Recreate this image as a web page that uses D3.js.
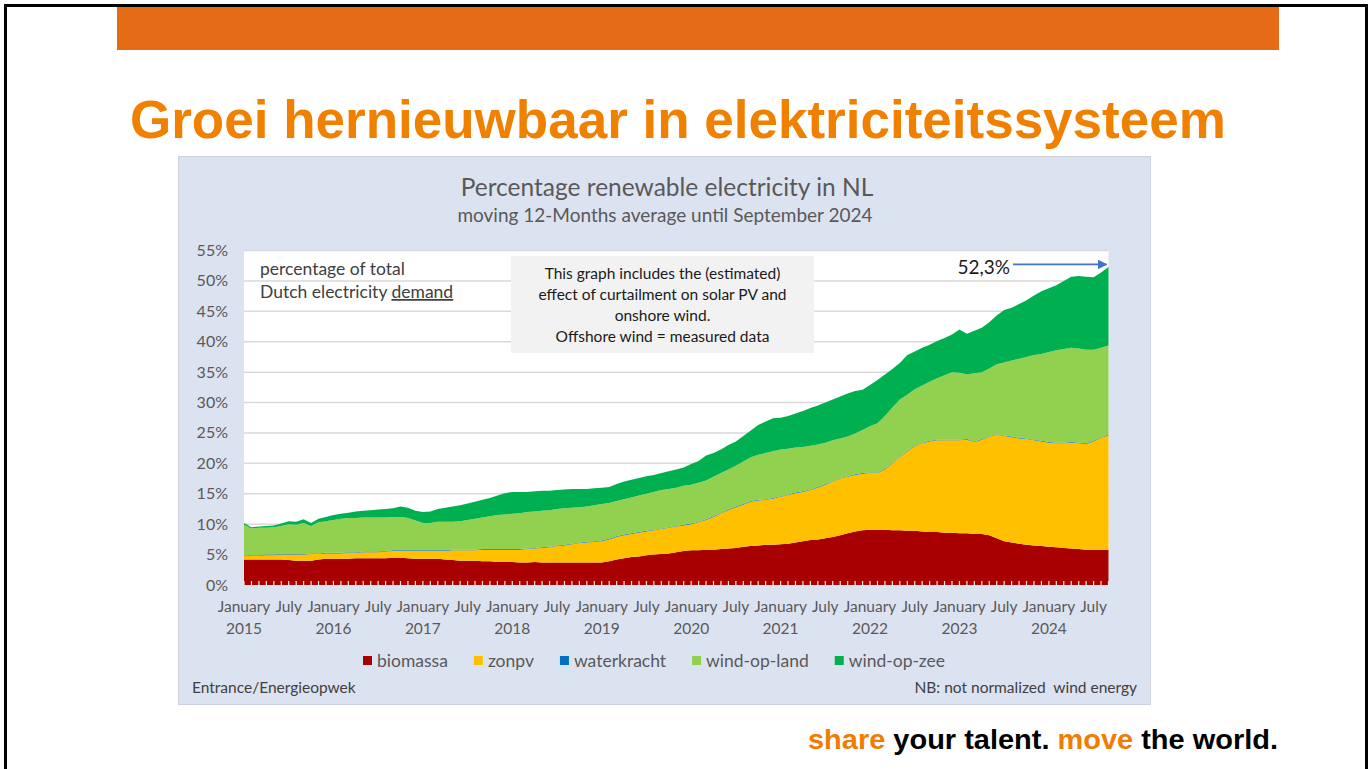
<!DOCTYPE html>
<html>
<head>
<meta charset="utf-8">
<script src="https://cdn.jsdelivr.net/npm/d3@7"></script>
<style>
body { margin: 0; background: #fff; }
svg text { font-family: Lato, "Open Sans", sans-serif; }
</style>
</head>
<body>
<svg id="slide" width="1371" height="769"></svg>
<script>
"use strict";

// Data: moving 12-month average share of demand (%), Jan 2015 .. Sep 2024 (117 months)
const firstYear = 2015;
const lastYear = 2024;

const biomassa = [
	4.2, 4.2, 4.2, 4.2, 4.2, 4.2, 4.1, 4.0, 4.0, 4.0, 4.2, 4.3,
	4.3, 4.3, 4.3, 4.4, 4.4, 4.4, 4.4, 4.4, 4.5, 4.5, 4.4, 4.3,
	4.3, 4.3, 4.3, 4.2, 4.1, 4.0, 4.0, 4.0, 3.9, 3.9, 3.8, 3.8,
	3.8, 3.7, 3.7, 3.8, 3.7, 3.7, 3.7, 3.7, 3.7, 3.7, 3.7, 3.7,
	3.7, 3.9, 4.2, 4.4, 4.6, 4.7, 4.9, 5.0, 5.1, 5.2, 5.4, 5.6,
	5.7, 5.7, 5.8, 5.8, 5.9, 6.0, 6.1, 6.3, 6.4, 6.5, 6.6, 6.6,
	6.7, 6.8, 7.0, 7.2, 7.4, 7.5, 7.7, 7.9, 8.2, 8.5, 8.8, 9.0,
	9.1, 9.1, 9.1, 9.0, 9.0, 8.9, 8.9, 8.8, 8.7, 8.7, 8.6, 8.6,
	8.5, 8.5, 8.4, 8.4, 8.2, 7.7, 7.2, 7.0, 6.8, 6.6, 6.5, 6.4,
	6.3, 6.2, 6.1, 6.0, 5.9, 5.8, 5.8, 5.8, 5.8
];

const zonpv = [
	0.7, 0.6, 0.6, 0.7, 0.7, 0.8, 0.9, 1.0, 1.0, 1.1, 0.9, 0.9,
	0.9, 0.9, 1.0, 0.9, 1.0, 1.0, 1.0, 1.1, 1.1, 1.1, 1.2, 1.3,
	1.3, 1.3, 1.3, 1.4, 1.6, 1.7, 1.7, 1.7, 1.9, 1.9, 2.0, 2.0,
	2.0, 2.1, 2.2, 2.2, 2.4, 2.5, 2.7, 2.8, 3.0, 3.2, 3.3, 3.4,
	3.5, 3.6, 3.7, 3.8, 3.8, 3.9, 3.9, 4.0, 4.1, 4.2, 4.2, 4.2,
	4.3, 4.6, 4.9, 5.4, 5.9, 6.3, 6.7, 6.9, 7.3, 7.4, 7.4, 7.6,
	7.8, 8.0, 8.1, 8.1, 8.2, 8.5, 8.8, 9.1, 9.3, 9.3, 9.3, 9.3,
	9.3, 9.3, 9.9, 11.0, 12.0, 13.1, 13.9, 14.5, 14.9, 15.1, 15.2, 15.2,
	15.3, 15.4, 15.1, 15.5, 16.2, 17.0, 17.3, 17.3, 17.3, 17.4, 17.3, 17.2,
	17.1, 17.1, 17.2, 17.4, 17.4, 17.4, 17.8, 18.4, 18.8
];

const waterkracht = [
	0.1, 0.1, 0.1, 0.1, 0.1, 0.1, 0.1, 0.1, 0.1, 0.1, 0.1, 0.1,
	0.1, 0.1, 0.1, 0.1, 0.1, 0.1, 0.1, 0.1, 0.1, 0.1, 0.1, 0.1,
	0.1, 0.1, 0.1, 0.1, 0.1, 0.1, 0.1, 0.1, 0.1, 0.1, 0.1, 0.1,
	0.1, 0.1, 0.1, 0.1, 0.1, 0.1, 0.1, 0.1, 0.1, 0.1, 0.1, 0.1,
	0.1, 0.1, 0.1, 0.1, 0.1, 0.1, 0.1, 0.1, 0.1, 0.1, 0.1, 0.1,
	0.1, 0.1, 0.1, 0.1, 0.1, 0.1, 0.1, 0.1, 0.1, 0.1, 0.1, 0.1,
	0.1, 0.1, 0.1, 0.1, 0.1, 0.1, 0.1, 0.1, 0.1, 0.1, 0.1, 0.1,
	0.1, 0.1, 0.1, 0.1, 0.1, 0.1, 0.1, 0.1, 0.1, 0.1, 0.1, 0.1,
	0.1, 0.1, 0.1, 0.1, 0.1, 0.1, 0.1, 0.1, 0.1, 0.1, 0.1, 0.1,
	0.1, 0.1, 0.1, 0.1, 0.1, 0.1, 0.1, 0.1, 0.1
];

const windOpLand = [
	4.9, 4.4, 4.5, 4.4, 4.5, 4.6, 4.9, 4.8, 5.1, 4.5, 5.1, 5.2,
	5.4, 5.6, 5.6, 5.6, 5.6, 5.6, 5.6, 5.5, 5.5, 5.5, 5.3, 4.9,
	4.5, 4.5, 4.7, 4.7, 4.6, 4.7, 4.9, 5.1, 5.2, 5.4, 5.6, 5.7,
	5.8, 5.9, 6.0, 6.0, 6.0, 6.0, 6.0, 6.0, 5.9, 5.8, 5.8, 5.9,
	6.0, 5.9, 5.8, 5.8, 5.9, 6.0, 6.1, 6.2, 6.3, 6.3, 6.3, 6.4,
	6.4, 6.4, 6.4, 6.5, 6.5, 6.6, 6.7, 7.0, 7.2, 7.4, 7.6, 7.7,
	7.7, 7.5, 7.4, 7.3, 7.2, 7.0, 6.8, 6.7, 6.5, 6.5, 6.7, 7.1,
	7.6, 8.1, 8.7, 9.1, 9.4, 9.2, 9.3, 9.4, 9.7, 10.1, 10.6, 11.1,
	11.0, 10.6, 11.2, 11.0, 11.1, 11.5, 12.0, 12.5, 13.0, 13.4, 13.9, 14.3,
	14.8, 15.2, 15.4, 15.5, 15.5, 15.4, 15.0, 14.7, 14.7
];

const windOpZee = [
	0.3, 0.2, 0.2, 0.3, 0.3, 0.4, 0.5, 0.5, 0.6, 0.5, 0.6, 0.7,
	0.8, 0.8, 0.9, 1.1, 1.1, 1.2, 1.3, 1.4, 1.4, 1.7, 1.7, 1.6,
	1.8, 1.9, 2.1, 2.3, 2.5, 2.6, 2.7, 2.8, 2.9, 3.0, 3.2, 3.5,
	3.6, 3.5, 3.3, 3.3, 3.3, 3.2, 3.1, 3.1, 3.1, 3.0, 2.9, 2.8,
	2.7, 2.6, 2.8, 2.9, 2.9, 2.9, 2.9, 2.8, 2.8, 2.9, 3.0, 3.0,
	3.4, 3.6, 4.1, 3.9, 3.9, 4.0, 4.0, 4.2, 4.4, 4.9, 5.2, 5.4,
	5.2, 5.4, 5.6, 5.9, 6.2, 6.4, 6.6, 6.7, 6.9, 7.1, 7.0, 6.6,
	6.8, 7.1, 6.8, 6.3, 6.0, 6.5, 6.2, 6.2, 6.1, 6.1, 6.1, 6.2,
	7.1, 6.7, 7.0, 7.3, 7.6, 8.0, 8.6, 8.7, 9.0, 9.3, 9.8, 10.3,
	10.5, 10.7, 11.2, 11.7, 11.9, 12.0, 11.9, 12.4, 12.9
];

const seriesNames = ["biomassa", "zonpv", "waterkracht", "wind-op-land", "wind-op-zee"];
const seriesValues = [biomassa, zonpv, waterkracht, windOpLand, windOpZee];
const seriesColors = ["#a80000", "#ffc000", "#0070c0", "#92d050", "#00b050"];

const yTicks = [0, 5, 10, 15, 20, 25, 30, 35, 40, 45, 50, 55];
const monthLabels = ["January", "July"];
const lastValueLabel = "52,3%";

const noteLines = [
	"This graph includes the (estimated)",
	"effect of curtailment on solar PV and",
	"onshore wind.",
	"Offshore wind = measured data"
];

// Build rows for the stack
var rows = biomassa.map(function(d, i) {
	var row = { i: i };
	seriesNames.forEach(function(name, k) {
		row[name] = seriesValues[k][i];
	});
	return row;
});
var nMonths = rows.length;

var svg = d3.select("#slide");

// Slide frame and header
svg.append("rect")
	.attr("x", 5.5).attr("y", 5.5)
	.attr("width", 1361).attr("height", 780)
	.attr("fill", "none")
	.attr("stroke", "#000")
	.attr("stroke-width", 3);

svg.append("rect")
	.attr("x", 117).attr("y", 7)
	.attr("width", 1162).attr("height", 43)
	.attr("fill", "#e56b17");

svg.append("text")
	.attr("x", 130).attr("y", 138)
	.style("font-family", "'Liberation Sans', Arial, sans-serif")
	.style("font-weight", "bold")
	.style("font-size", "53px")
	.attr("fill", "#ef8000")
	.text("Groei hernieuwbaar in elektriciteitssysteem");

// Chart box
svg.append("rect")
	.attr("x", 178.5).attr("y", 156.5)
	.attr("width", 972).attr("height", 548)
	.attr("fill", "#dce3f0")
	.attr("stroke", "#cdd3de");

svg.append("text")
	.attr("x", 667).attr("y", 196)
	.attr("text-anchor", "middle")
	.style("font-size", "24.5px")
	.attr("fill", "#595959")
	.text("Percentage renewable electricity in NL");

svg.append("text")
	.attr("x", 665).attr("y", 222)
	.attr("text-anchor", "middle")
	.style("font-size", "19px")
	.attr("fill", "#595959")
	.text("moving 12-Months average until September 2024");

// Scales
var x = d3.scaleLinear().domain([0, nMonths - 1]).range([244, 1108.5]);
var y = d3.scaleLinear().domain([0, 55]).range([585, 250.5]);

// Plot area
svg.append("rect")
	.attr("x", x(0)).attr("y", y(55))
	.attr("width", x(nMonths - 1) - x(0)).attr("height", y(0) - y(55))
	.attr("fill", "#fff");

svg.append("g")
	.selectAll("line")
	.data(yTicks.filter(function(d) { return d > 0; }))
	.enter()
	.append("line")
	.attr("x1", x(0)).attr("x2", x(nMonths - 1))
	.attr("y1", function(d) { return y(d); })
	.attr("y2", function(d) { return y(d); })
	.attr("stroke", "#d9d9d9")
	.attr("stroke-width", 1.5);

// y labels
svg.append("g")
	.selectAll("text")
	.data(yTicks)
	.enter()
	.append("text")
	.attr("x", 228)
	.attr("y", function(d) { return y(d) + 5.5; })
	.attr("text-anchor", "end")
	.style("font-size", "16px")
	.attr("fill", "#595959")
	.text(function(d) { return d + "%"; });

// Notes inside plot
var note1 = svg.append("text")
	.attr("x", 260).attr("y", 275)
	.style("font-size", "17.5px")
	.attr("fill", "#404040");
note1.append("tspan").attr("x", 260).text("percentage of total");
var note2 = svg.append("text")
	.attr("x", 260).attr("y", 298)
	.style("font-size", "17.5px")
	.attr("fill", "#404040");
note2.append("tspan").text("Dutch electricity ");
note2.append("tspan").style("text-decoration", "underline").text("demand");

svg.append("rect")
	.attr("x", 511).attr("y", 256)
	.attr("width", 303).attr("height", 97)
	.attr("fill", "#f2f2f2");

svg.append("g")
	.selectAll("text")
	.data(noteLines)
	.enter()
	.append("text")
	.attr("x", 662.5)
	.attr("y", function(d, i) { return 278.5 + i * 21; })
	.attr("text-anchor", "middle")
	.style("font-size", "15.5px")
	.attr("fill", "#1a1a1a")
	.text(function(d) { return d; });

// Stacked areas
var stack = d3.stack().keys(seriesNames);
var layers = stack(rows);

var area = d3.area()
	.x(function(d) { return x(d.data.i); })
	.y0(function(d) { return y(d[0]); })
	.y1(function(d) { return y(d[1]); });

svg.append("g")
	.selectAll("path")
	.data(layers)
	.enter()
	.append("path")
	.attr("d", area)
	.attr("fill", function(d, i) { return seriesColors[i]; });

// month tick marks along the bottom
svg.append("g")
	.selectAll("line")
	.data(rows)
	.enter()
	.append("line")
	.attr("x1", function(d) { return x(d.i); })
	.attr("x2", function(d) { return x(d.i); })
	.attr("y1", y(0) - 4)
	.attr("y2", y(0) + 1)
	.attr("stroke", "#f4e4e4")
	.attr("stroke-width", 1.2);

// x labels
var xLabels = [];
d3.range(firstYear, lastYear + 1).forEach(function(yr) {
	monthLabels.forEach(function(m, k) {
		var idx = (yr - firstYear) * 12 + k * 6;
		if (idx < nMonths) xLabels.push({ i: idx, text: m });
	});
});

svg.append("g")
	.selectAll("text")
	.data(xLabels)
	.enter()
	.append("text")
	.attr("x", function(d) { return x(d.i); })
	.attr("y", 612)
	.attr("text-anchor", "middle")
	.style("font-size", "15.5px")
	.attr("fill", "#595959")
	.text(function(d) { return d.text; });

svg.append("g")
	.selectAll("text")
	.data(d3.range(firstYear, lastYear + 1))
	.enter()
	.append("text")
	.attr("x", function(d) { return x((d - firstYear) * 12); })
	.attr("y", 634)
	.attr("text-anchor", "middle")
	.style("font-size", "15.5px")
	.attr("fill", "#595959")
	.text(function(d) { return d; });

// last value annotation
var lastTotal = d3.sum(seriesValues, function(s) { return s[nMonths - 1]; });
svg.append("text")
	.attr("x", 1010).attr("y", 273.5)
	.attr("text-anchor", "end")
	.style("font-size", "19px")
	.attr("fill", "#1a1a1a")
	.text(lastValueLabel);

svg.append("defs")
	.append("marker")
	.attr("id", "arrowhead")
	.attr("viewBox", "0 0 10 10")
	.attr("refX", 9).attr("refY", 5)
	.attr("markerWidth", 6).attr("markerHeight", 6)
	.attr("markerUnits", "strokeWidth")
	.attr("orient", "auto")
	.append("path")
	.attr("d", "M0,0L10,5L0,10z")
	.attr("fill", "#4472c4");

svg.append("line")
	.attr("x1", 1013).attr("x2", x(nMonths - 1) - 2)
	.attr("y1", y(lastTotal) - 2.5).attr("y2", y(lastTotal) - 2.5)
	.attr("stroke", "#4472c4")
	.attr("stroke-width", 1.6)
	.attr("marker-end", "url(#arrowhead)");

// Legend
var legend = svg.append("g");
var lx = 363;
seriesNames.forEach(function(name, i) {
	legend.append("rect")
		.attr("x", lx).attr("y", 656)
		.attr("width", 9).attr("height", 9)
		.attr("fill", seriesColors[i]);
	var t = legend.append("text")
		.attr("x", lx + 14).attr("y", 667)
		.style("font-size", "17.5px")
		.attr("fill", "#595959")
		.text(name);
	lx += 14 + t.node().getComputedTextLength() + 26;
});

// Footer of chart
svg.append("text")
	.attr("x", 192).attr("y", 693)
	.style("font-size", "15.5px")
	.attr("fill", "#404040")
	.text("Entrance/Energieopwek");

svg.append("text")
	.attr("x", 1137).attr("y", 693)
	.attr("text-anchor", "end")
	.style("font-size", "15.5px")
	.attr("fill", "#404040")
	.attr("xml:space", "preserve")
	.text("NB: not normalized  wind energy");

// Slogan
var slogan = svg.append("text")
	.attr("x", 808).attr("y", 749)
	.style("font-family", "'Liberation Sans Narrow', 'Liberation Sans', Arial, sans-serif")
	.style("font-weight", "bold")
	.style("font-size", "28px")
	.attr("textLength", 470)
	.attr("lengthAdjust", "spacingAndGlyphs");
slogan.append("tspan").attr("fill", "#f07c00").text("share ");
slogan.append("tspan").attr("fill", "#000").text("your talent. ");
slogan.append("tspan").attr("fill", "#f07c00").text("move ");
slogan.append("tspan").attr("fill", "#000").text("the world.");
</script>
</body>
</html>
